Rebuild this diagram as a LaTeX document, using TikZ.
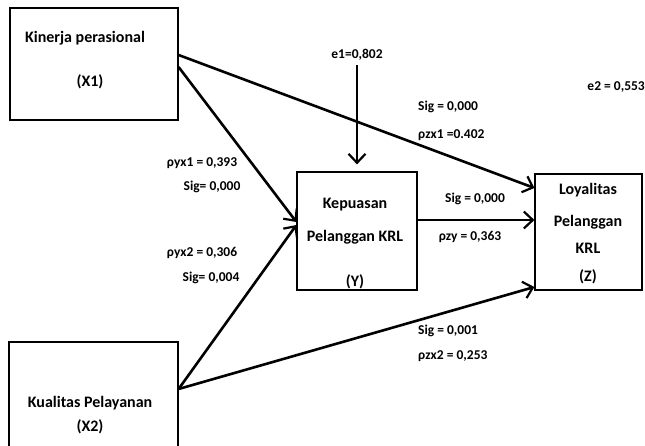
\documentclass[tikz,border=0pt]{standalone}
\usepackage{fontspec}
\setmainfont{Carlito}
\usetikzlibrary{arrows.meta}

\tikzset{
box/.style={draw,line width=1.2pt,inner sep=0pt},
boxtext/.style={font=\fontsize{16}{19}\selectfont\bfseries,inner sep=0pt},
coef/.style={font=\fontsize{13.5}{15}\selectfont\bfseries,inner sep=0pt},
arr/.style={line width=2.6pt,-{Straight Barb[length=9pt,width=17pt,line width=2.2pt]}}
}

\begin{document}
\begin{tikzpicture}[x=1pt,y=-1pt]
\useasboundingbox (0,0) rectangle (645,446);
% boxes
\node[box,minimum width=168pt,minimum height=112pt] (X1) at (94,64) {};
\node[box,minimum width=120pt,minimum height=118pt] (Y) at (357,231) {};
\node[box,minimum width=107pt,minimum height=116pt] (Z) at (588.5,232) {};
\node[box,minimum width=169pt,minimum height=146pt] (X2) at (93.5,415) {};
% box texts
\node[boxtext] (x1a) at (85,38) {Kinerja perasional};
\node[boxtext] (x1b) at (90,82) {(X1)};
\node[boxtext] (ya) at (355,205) {Kepuasan};
\node[boxtext] (yb) at (355,237) {Pelanggan KRL};
\node[boxtext] (yc) at (355,282) {(Y)};
\node[boxtext] (za) at (588,190) {Loyalitas};
\node[boxtext] (zb) at (588,222) {Pelanggan};
\node[boxtext] (zc) at (588,248) {KRL};
\node[boxtext] (zd) at (588,277) {(Z)};
\node[boxtext] (x2a) at (90,403) {Kualitas Pelayanan};
\node[boxtext] (x2b) at (90,427) {(X2)};
% errors
\node[coef] (e1) at (357,55) {e1=0,802};
\node[coef,anchor=east] (e2) at (645,87) {e2 = 0,553};
% arrows
\draw[arr] ([yshift=9pt]X1.east) -- ([yshift=44pt]Z.west);
\draw[arr] ([yshift=-3pt]X1.east) -- ([yshift=9pt]Y.west);
\draw[arr] ([yshift=26pt]X2.east) -- ([yshift=6pt]Y.west);
\draw[arr] ([yshift=26pt]X2.east) -- ([yshift=-55pt]Z.west);
\draw[arr] ([yshift=11pt]Y.east) -- ([yshift=12pt]Z.west);
\draw[arr,shorten <=4pt,shorten >=7pt] (e1.south) -- (Y.north);
% coefficients
\node[coef] (pyx1) at (202,163) {ρyx1 = 0,393};
\node[coef] (sigyx1) at (212,187) {Sig= 0,000};
\node[coef] (pyx2) at (202,253) {ρyx2 = 0,306};
\node[coef] (sigyx2) at (211,278) {Sig= 0,004};
\node[coef,anchor=west] (sigzx1) at (418,107) {Sig = 0,000};
\node[coef,anchor=west] (pzx1) at (418,135) {ρzx1 =0.402};
\node[coef] (sigzy) at (475,199) {Sig = 0,000};
\node[coef] (pzy) at (470,237) {ρzy = 0,363};
\node[coef,anchor=west] (sigzx2) at (418,331) {Sig = 0,001};
\node[coef,anchor=west] (pzx2) at (418,356) {ρzx2 = 0,253};
\end{tikzpicture}
\end{document}
